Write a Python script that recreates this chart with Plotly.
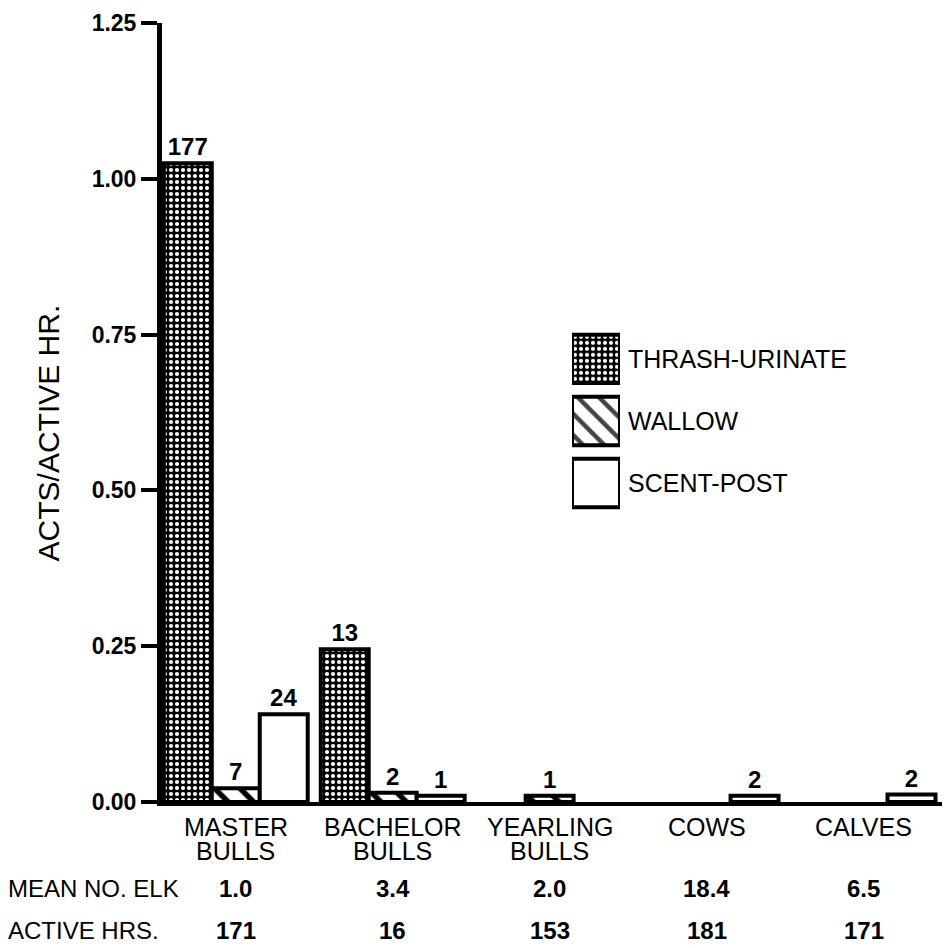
import plotly.graph_objects as go

# ---------------- data ----------------
categories = ["MASTER BULLS", "BACHELOR BULLS", "YEARLING BULLS", "COWS", "CALVES"]
cat_line1 = ["MASTER", "BACHELOR", "YEARLING", "COWS", "CALVES"]
cat_line2 = ["BULLS", "BULLS", "BULLS", "", ""]

thrash_urinate = [1.025, 0.245, None, None, None]
wallow = [0.022, 0.015, 0.010, None, None]
scent_post = [0.141, 0.010, None, 0.010, 0.012]

thrash_labels = ["177", "13", "", "", ""]
wallow_labels = ["7", "2", "1", "", ""]
scent_labels = ["24", "1", "", "2", "2"]

mean_no_elk = ["1.0", "3.4", "2.0", "18.4", "6.5"]
active_hrs = ["171", "16", "153", "181", "171"]

y_ticks = [0.0, 0.25, 0.5, 0.75, 1.0, 1.25]

legend_names = ["THRASH-URINATE", "WALLOW", "SCENT-POST"]
legend_len = [1, 1, 1]

# ---------------- styling ----------------
REG = "Liberation Sans, Arial, Helvetica, sans-serif"
NUM = "Liberation Sans, Arial, Helvetica, sans-serif"

# plot area in pixels (for placing text)
L, R, T, B = 162, 942, 20, 802
W, H = 952, 948


def px_x(p):
    return (p - L) / (R - L)


def px_y(p):
    return (B - p) / (B - T)


line = dict(color="black", width=4)
pat_thrash = dict(shape=".", bgcolor="black", fgcolor="white", fgopacity=1,
                  size=6, solidity=0.38)
pat_wallow = dict(shape="\\", bgcolor="white", fgcolor="black", fgopacity=1,
                  size=18, solidity=0.3)
num_font = dict(family=NUM, size=24, color="black", weight="bold")

fig = go.Figure()

fig.add_trace(go.Bar(
    x=categories, y=thrash_urinate, name="THRASH-URINATE",
    marker=dict(color="black", line=line, pattern=pat_thrash),
    text=thrash_labels, textposition="outside", textfont=num_font,
    cliponaxis=False, constraintext="none", showlegend=False,
))
fig.add_trace(go.Bar(
    x=categories, y=wallow, name="WALLOW",
    marker=dict(color="white", line=line, pattern=pat_wallow),
    text=wallow_labels, textposition="outside", textfont=num_font,
    cliponaxis=False, constraintext="none", showlegend=False,
))
fig.add_trace(go.Bar(
    x=categories, y=scent_post, name="SCENT-POST",
    marker=dict(color="white", line=line),
    text=scent_labels, textposition="outside", textfont=num_font,
    cliponaxis=False, constraintext="none", showlegend=False,
))

# legend drawn as a small inset bar chart so swatches carry the patterns
fig.add_trace(go.Bar(
    x=legend_len, y=legend_names, orientation="h", width=0.78,
    xaxis="x2", yaxis="y2", showlegend=False, hoverinfo="skip",
    marker=dict(
        color=["black", "white", "white"],
        line=line,
        pattern=dict(
            shape=[".", "\\", ""],
            bgcolor=["black", "white", "white"],
            fgcolor=["white", "black", "black"],
            fgopacity=1,
            size=[6, 15, 8],
            solidity=[0.38, 0.3, 0.2],
        ),
    ),
))

annotations = []
for name in legend_names:
    annotations.append(dict(
        x=1.0, y=name, xref="x2", yref="y2", xanchor="left", yanchor="middle",
        xshift=6, text=name, showarrow=False, font=dict(family=REG, size=25, color="black"),
    ))

# category labels (two lines, tight spacing)
for i, (a, b) in enumerate(zip(cat_line1, cat_line2)):
    annotations.append(dict(
        x=categories[i], y=px_y(827), xref="x", yref="paper", yanchor="middle",
        text=a, showarrow=False, font=dict(family=REG, size=25, color="black"),
    ))
    if b:
        annotations.append(dict(
            x=categories[i], y=px_y(851), xref="x", yref="paper", yanchor="middle",
            text=b, showarrow=False, font=dict(family=REG, size=25, color="black"),
        ))

# table rows
annotations.append(dict(
    x=px_x(6), y=px_y(889), xref="paper", yref="paper", xanchor="left", yanchor="middle",
    text="MEAN NO. ELK", showarrow=False, font=dict(family=REG, size=24, color="black"),
))
annotations.append(dict(
    x=px_x(6), y=px_y(931), xref="paper", yref="paper", xanchor="left", yanchor="middle",
    text="ACTIVE HRS.", showarrow=False, font=dict(family=REG, size=24, color="black"),
))
for i in range(len(categories)):
    annotations.append(dict(
        x=categories[i], y=px_y(889), xref="x", yref="paper", yanchor="middle",
        text=mean_no_elk[i], showarrow=False, font=num_font,
    ))
    annotations.append(dict(
        x=categories[i], y=px_y(931), xref="x", yref="paper", yanchor="middle",
        text=active_hrs[i], showarrow=False, font=num_font,
    ))

# y-axis title
annotations.append(dict(
    x=px_x(48), y=px_y(432), xref="paper", yref="paper", xanchor="center", yanchor="middle",
    text="ACTS/ACTIVE HR.", textangle=-90, showarrow=False,
    font=dict(family=REG, size=30, color="black"),
))

fig.update_layout(
    width=W, height=H,
    margin=dict(l=L, r=W - R, t=T, b=H - B, pad=0),
    paper_bgcolor="white", plot_bgcolor="white",
    barmode="group", bargap=0.083, bargroupgap=0.0,
    showlegend=False,
    annotations=annotations,
    xaxis=dict(
        type="category", range=[-0.47, 4.5], showticklabels=False, ticks="",
        showline=True, linecolor="black", linewidth=4, showgrid=False, zeroline=False,
        fixedrange=True,
    ),
    yaxis=dict(
        range=[0, 1.25], tickvals=y_ticks, tickformat=".2f",
        ticks="outside", ticklen=16, tickwidth=4, tickcolor="black",
        tickfont=dict(family=NUM, size=23, color="black", weight="bold"),
        showline=True, linecolor="black", linewidth=5, showgrid=False, zeroline=False,
        fixedrange=True,
    ),
    xaxis2=dict(
        domain=[px_x(572), px_x(620)], anchor="y2", range=[0, 1],
        visible=False, fixedrange=True,
    ),
    yaxis2=dict(
        domain=[px_y(513), px_y(326)], anchor="x2", type="category",
        autorange="reversed", visible=False, fixedrange=True,
    ),
)

fig.write_html(
    "out.html",
    config={"displayModeBar": False, "staticPlot": True},
    post_script="document.body.style.margin='0';document.body.style.padding='0';",
)
